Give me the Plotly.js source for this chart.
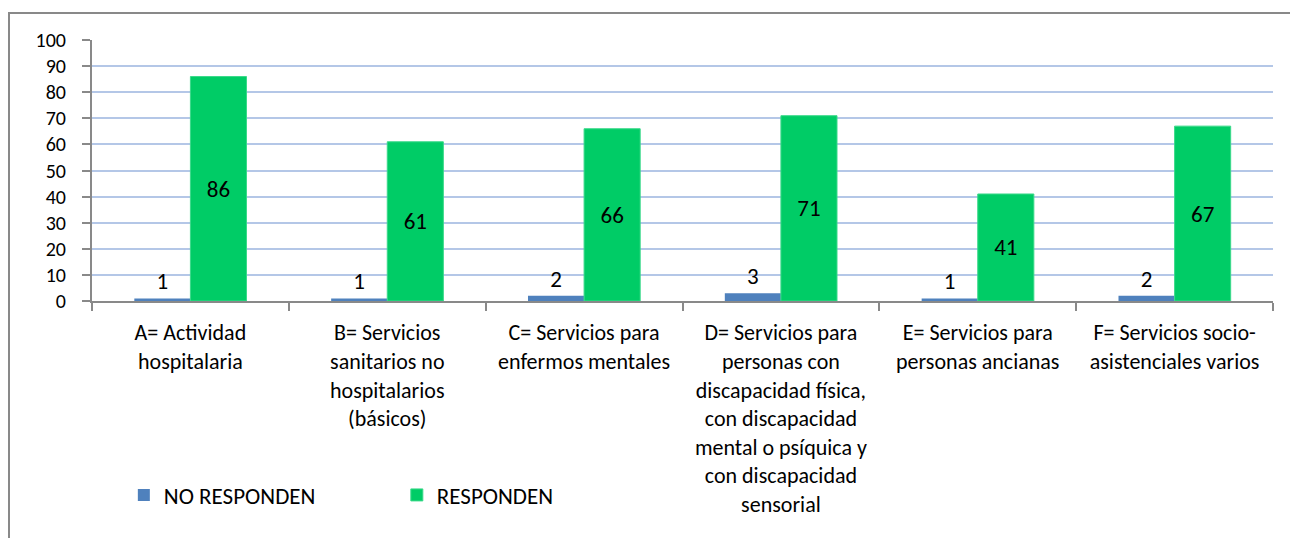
<!DOCTYPE html>
<html>
<head>
<meta charset="utf-8">
<script src="https://cdn.plot.ly/plotly-3.0.1.min.js"></script>
<style>
  html, body { margin: 0; padding: 0; background: #fff; overflow: hidden; }
  #frame { position: absolute; left: 8px; top: 12px; width: 1300px; height: 600px; border: 2px solid #898989; box-sizing: border-box; }
  #chart { position: absolute; left: 0; top: 0; width: 1290px; height: 538px; }
</style>
</head>
<body>
<div id="frame"></div>
<div id="chart"></div>
<script>
const categories = [
  "A= Actividad<br>hospitalaria",
  "B= Servicios<br>sanitarios no<br>hospitalarios<br>(básicos)",
  "C= Servicios para<br>enfermos mentales",
  "D= Servicios para<br>personas con<br>discapacidad física,<br>con discapacidad<br>mental o psíquica y<br>con discapacidad<br>sensorial",
  "E= Servicios para<br>personas ancianas",
  "F= Servicios socio-<br>asistenciales varios"
];
const noResponden = [1, 1, 2, 3, 1, 2];
const responden = [86, 61, 66, 71, 41, 67];
const seriesNames = ["NO RESPONDEN", "RESPONDEN"];
const yTicks = [0, 10, 20, 30, 40, 50, 60, 70, 80, 90, 100];

const FONT = "Carlito, Calibri, 'Liberation Sans', Arial, sans-serif";
const FS = 23;

const traces = [
  {
    type: "bar", name: seriesNames[0], x: categories, y: noResponden,
    marker: { color: "#4F81BD" },
    text: noResponden.map(String), textposition: "outside", cliponaxis: false,
    textfont: { family: FONT, size: FS, color: "#000" }
  },
  {
    type: "bar", name: seriesNames[1], x: categories, y: responden,
    marker: { color: "#00CC66", line: { color: "#3ad98a", width: 1 } },
    text: responden.map(String), textposition: "inside", insidetextanchor: "middle",
    textangle: 0,
    textfont: { family: FONT, size: FS, color: "#000" }
  }
];

const layout = {
  width: 1290, height: 538,
  margin: { l: 92, r: 17, t: 40, b: 237 },
  paper_bgcolor: "rgba(0,0,0,0)", plot_bgcolor: "rgba(0,0,0,0)",
  font: { family: FONT, size: FS, color: "#000" },
  barmode: "group", bargap: 0.43, bargroupgap: 0,
  showlegend: true,
  legend: {
    orientation: "h", xref: "container", yref: "container",
    x: 0.096, y: 0.08, xanchor: "left", yanchor: "middle",
    entrywidth: 228, entrywidthmode: "pixels",
    font: { family: FONT, size: FS, color: "#000" },
    bgcolor: "rgba(0,0,0,0)", traceorder: "normal"
  },
  xaxis: {
    type: "category", showline: true, linecolor: "#898989", linewidth: 2,
    ticks: "outside", tickson: "boundaries", ticklen: 8, tickwidth: 2, tickcolor: "#898989",
    showgrid: false, zeroline: false, tickangle: 0,
    ticklabelstandoff: 11,
    tickfont: { family: FONT, size: 22, color: "#000" }
  },
  yaxis: {
    range: [0, 100], tickvals: yTicks, ticktext: yTicks.map(String),
    showline: true, linecolor: "#898989", linewidth: 2,
    ticks: "outside", ticklen: 8, tickwidth: 2, tickcolor: "#898989",
    showgrid: true, gridcolor: "#B4C7E7", gridwidth: 2, zeroline: false,
    ticklabelstandoff: 12,
    tickfont: { family: FONT, size: 20, color: "#000" }
  }
};

Plotly.newPlot("chart", traces, layout, { displayModeBar: false, staticPlot: true });
</script>
</body>
</html>
